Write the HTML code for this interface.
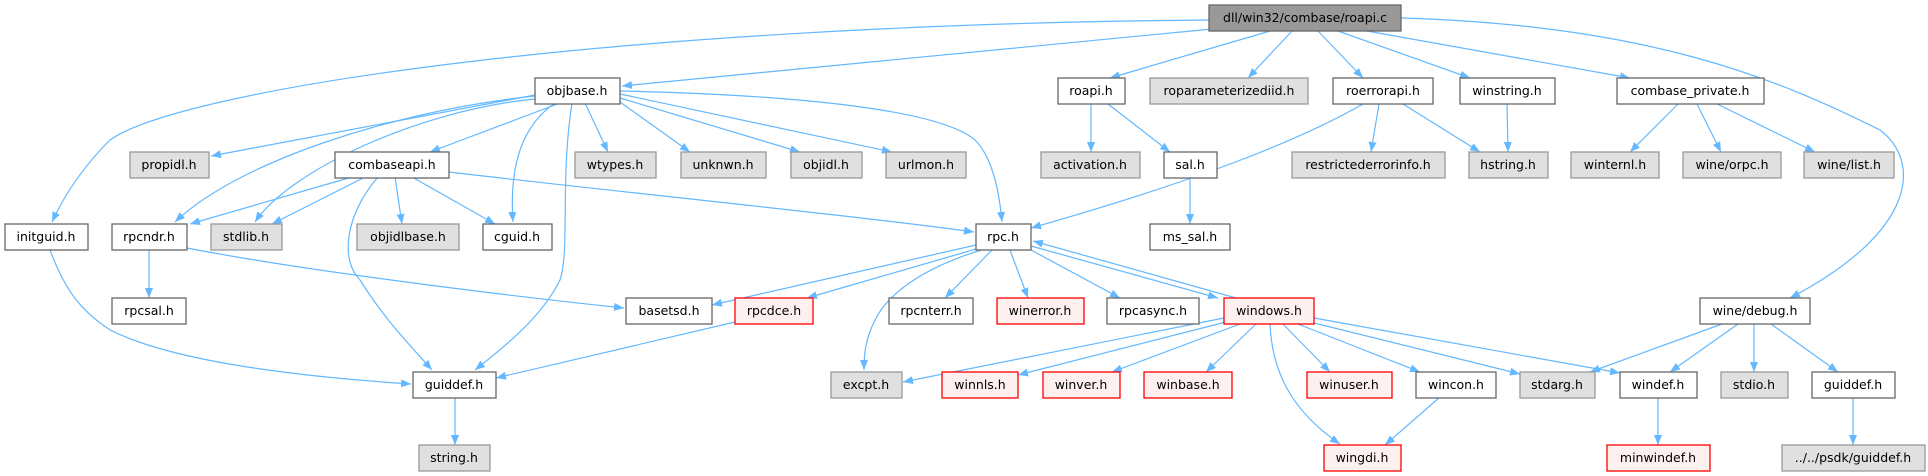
<!DOCTYPE html>
<html><head><meta charset="utf-8"><style>
html,body{margin:0;padding:0;background:#fff;}
svg{display:block;}
text{font-family:"DejaVu Sans","Liberation Sans",sans-serif;font-size:12.5px;fill:#000;text-anchor:middle;}
.n rect{fill:#fff;stroke:#666;stroke-width:1.3;}
.g rect{fill:#e0e0e0;stroke:#999;stroke-width:1.3;}
.r rect{fill:#fff0f0;stroke:#f00;stroke-width:1.3;}
.m rect{fill:#999;stroke:#666;stroke-width:1.3;}
path.e{fill:none;stroke:#63b8ff;stroke-width:1.2;marker-end:url(#a);}
</style></head><body>
<svg width="1928" height="476" viewBox="0 0 1928 476" xmlns="http://www.w3.org/2000/svg">
<defs><marker id="a" markerUnits="userSpaceOnUse" markerWidth="11" markerHeight="8" refX="10" refY="4" orient="auto"><path d="M0,0 L10,4 L0,8 z" fill="#63b8ff"/></marker></defs>
<g>
<path class="e" d="M1209,20 C600,25 180,90 110,140 C80,170 62,200 52,222"/>
<path class="e" d="M1212,29 L622,86"/>
<path class="e" d="M1270,31 L1110,78"/>
<path class="e" d="M1292,31 L1248,78"/>
<path class="e" d="M1318,31 L1363,78"/>
<path class="e" d="M1338,31 L1470,78"/>
<path class="e" d="M1367,31 L1630,78"/>
<path class="e" d="M1401,18 C1650,25 1780,80 1880,130 C1920,160 1920,230 1790,298"/>
<path class="e" d="M535,95 L211,156"/>
<path class="e" d="M560,103 L430,152"/>
<path class="e" d="M585,103 L608,152"/>
<path class="e" d="M620,102 L690,152"/>
<path class="e" d="M620,98 L800,152"/>
<path class="e" d="M620,94 L892,152"/>
<path class="e" d="M535,96 C400,110 240,160 175,222"/>
<path class="e" d="M535,99 C420,110 290,170 255,222"/>
<path class="e" d="M555,103 C515,130 510,180 513,222"/>
<path class="e" d="M572,103 C560,180 570,250 560,280 C540,320 500,350 475,370"/>
<path class="e" d="M620,91 C800,95 940,110 975,140 C995,160 1000,200 1002,222"/>
<path class="e" d="M352,177 L190,224"/>
<path class="e" d="M365,177 L272,224"/>
<path class="e" d="M395,177 L402,224"/>
<path class="e" d="M412,177 L495,224"/>
<path class="e" d="M378,177 C345,215 340,260 360,280 C385,320 410,345 432,370"/>
<path class="e" d="M449,172 C600,190 850,215 974,232"/>
<path class="e" d="M1091,104 L1091,152"/>
<path class="e" d="M1108,104 L1170,152"/>
<path class="e" d="M1190,178 L1190,224"/>
<path class="e" d="M1363,104 C1300,140 1200,180 1031,228"/>
<path class="e" d="M1379,104 L1371,152"/>
<path class="e" d="M1403,104 L1480,152"/>
<path class="e" d="M1507,104 L1508,152"/>
<path class="e" d="M1678,104 L1630,152"/>
<path class="e" d="M1697,104 L1721,152"/>
<path class="e" d="M1717,104 L1815,152"/>
<path class="e" d="M50,250 C65,290 80,310 110,330 C180,365 320,378 411,384"/>
<path class="e" d="M149,250 L149,298"/>
<path class="e" d="M187,248 C300,270 500,295 624,308"/>
<path class="e" d="M976,245 L712,305"/>
<path class="e" d="M976,249 L807,298"/>
<path class="e" d="M985,249 C930,265 890,290 875,320 C865,340 864,355 864,370"/>
<path class="e" d="M992,250 L945,298"/>
<path class="e" d="M1010,250 L1028,298"/>
<path class="e" d="M1031,250 L1120,298"/>
<path class="e" d="M1031,246 L1218,298"/>
<path class="e" d="M1236,298 L1033,241"/>
<path class="e" d="M735,322 L496,378"/>
<path class="e" d="M1224,318 L903,382"/>
<path class="e" d="M1226,322 L1018,375"/>
<path class="e" d="M1240,324 L1112,372"/>
<path class="e" d="M1256,324 L1206,372"/>
<path class="e" d="M1270,324 C1272,370 1290,410 1340,444"/>
<path class="e" d="M1283,324 L1330,372"/>
<path class="e" d="M1298,324 L1420,372"/>
<path class="e" d="M1310,322 L1520,374"/>
<path class="e" d="M1314,318 L1620,373"/>
<path class="e" d="M1440,397 L1385,445"/>
<path class="e" d="M1722,324 L1590,372"/>
<path class="e" d="M1738,324 L1670,372"/>
<path class="e" d="M1754,324 L1754,372"/>
<path class="e" d="M1771,324 L1838,372"/>
<path class="e" d="M1658,397 L1658,445"/>
<path class="e" d="M1853,397 L1853,445"/>
<path class="e" d="M455,397 L455,445"/>
</g>
<g class="m"><rect x="1209" y="5" width="192" height="26"/><text x="1305" y="22">dll/win32/combase/roapi.c</text></g>

<g class="n"><rect x="535" y="78" width="85" height="26"/><text x="577" y="95">objbase.h</text></g>
<g class="n"><rect x="1058" y="78" width="67" height="26"/><text x="1091" y="95">roapi.h</text></g>
<g class="g"><rect x="1150" y="78" width="158" height="26"/><text x="1229" y="95">roparameterizediid.h</text></g>
<g class="n"><rect x="1333" y="78" width="100" height="26"/><text x="1383" y="95">roerrorapi.h</text></g>
<g class="n"><rect x="1460" y="78" width="95" height="26"/><text x="1507" y="95">winstring.h</text></g>
<g class="n"><rect x="1617" y="78" width="147" height="26"/><text x="1690" y="95">combase_private.h</text></g>

<g class="g"><rect x="130" y="152" width="79" height="26"/><text x="169" y="169">propidl.h</text></g>
<g class="n"><rect x="335" y="152" width="114" height="26"/><text x="392" y="169">combaseapi.h</text></g>
<g class="g"><rect x="575" y="152" width="81" height="26"/><text x="615" y="169">wtypes.h</text></g>
<g class="g"><rect x="681" y="152" width="85" height="26"/><text x="723" y="169">unknwn.h</text></g>
<g class="g"><rect x="791" y="152" width="71" height="26"/><text x="826" y="169">objidl.h</text></g>
<g class="g"><rect x="886" y="152" width="80" height="26"/><text x="926" y="169">urlmon.h</text></g>
<g class="g"><rect x="1041" y="152" width="99" height="26"/><text x="1090" y="169">activation.h</text></g>
<g class="n"><rect x="1164" y="152" width="53" height="26"/><text x="1190" y="169">sal.h</text></g>
<g class="g"><rect x="1292" y="152" width="153" height="26"/><text x="1368" y="169">restrictederrorinfo.h</text></g>
<g class="g"><rect x="1469" y="152" width="79" height="26"/><text x="1508" y="169">hstring.h</text></g>
<g class="g"><rect x="1571" y="152" width="88" height="26"/><text x="1615" y="169">winternl.h</text></g>
<g class="g"><rect x="1683" y="152" width="98" height="26"/><text x="1732" y="169">wine/orpc.h</text></g>
<g class="g"><rect x="1804" y="152" width="90" height="26"/><text x="1849" y="169">wine/list.h</text></g>

<g class="n"><rect x="5" y="224" width="83" height="26"/><text x="46" y="241">initguid.h</text></g>
<g class="n"><rect x="112" y="224" width="75" height="26"/><text x="149" y="241">rpcndr.h</text></g>
<g class="g"><rect x="211" y="224" width="71" height="26"/><text x="246" y="241">stdlib.h</text></g>
<g class="g"><rect x="357" y="224" width="102" height="26"/><text x="408" y="241">objidlbase.h</text></g>
<g class="n"><rect x="483" y="224" width="69" height="26"/><text x="517" y="241">cguid.h</text></g>
<g class="n"><rect x="976" y="224" width="55" height="26"/><text x="1003" y="241">rpc.h</text></g>
<g class="n"><rect x="1150" y="224" width="80" height="26"/><text x="1190" y="241">ms_sal.h</text></g>

<g class="n"><rect x="112" y="298" width="74" height="26"/><text x="149" y="315">rpcsal.h</text></g>
<g class="n"><rect x="626" y="298" width="86" height="26"/><text x="669" y="315">basetsd.h</text></g>
<g class="r"><rect x="735" y="298" width="78" height="26"/><text x="774" y="315">rpcdce.h</text></g>
<g class="n"><rect x="889" y="298" width="84" height="26"/><text x="931" y="315">rpcnterr.h</text></g>
<g class="r"><rect x="997" y="298" width="87" height="26"/><text x="1040" y="315">winerror.h</text></g>
<g class="n"><rect x="1107" y="298" width="92" height="26"/><text x="1153" y="315">rpcasync.h</text></g>
<g class="r"><rect x="1224" y="298" width="90" height="26"/><text x="1269" y="315">windows.h</text></g>
<g class="n"><rect x="1700" y="298" width="110" height="26"/><text x="1755" y="315">wine/debug.h</text></g>

<g class="n"><rect x="413" y="372" width="83" height="26"/><text x="454" y="389">guiddef.h</text></g>
<g class="g"><rect x="831" y="372" width="71" height="26"/><text x="866" y="389">excpt.h</text></g>
<g class="r"><rect x="942" y="372" width="76" height="26"/><text x="980" y="389">winnls.h</text></g>
<g class="r"><rect x="1043" y="372" width="77" height="26"/><text x="1081" y="389">winver.h</text></g>
<g class="r"><rect x="1144" y="372" width="88" height="26"/><text x="1188" y="389">winbase.h</text></g>
<g class="r"><rect x="1307" y="372" width="85" height="26"/><text x="1349" y="389">winuser.h</text></g>
<g class="n"><rect x="1416" y="372" width="80" height="26"/><text x="1456" y="389">wincon.h</text></g>
<g class="g"><rect x="1520" y="372" width="75" height="26"/><text x="1557" y="389">stdarg.h</text></g>
<g class="n"><rect x="1620" y="372" width="77" height="26"/><text x="1658" y="389">windef.h</text></g>
<g class="g"><rect x="1721" y="372" width="67" height="26"/><text x="1754" y="389">stdio.h</text></g>
<g class="n"><rect x="1812" y="372" width="83" height="26"/><text x="1853" y="389">guiddef.h</text></g>

<g class="g"><rect x="419" y="445" width="71" height="26"/><text x="454" y="462">string.h</text></g>
<g class="r"><rect x="1324" y="445" width="77" height="26"/><text x="1362" y="462">wingdi.h</text></g>
<g class="r"><rect x="1607" y="445" width="103" height="26"/><text x="1658" y="462">minwindef.h</text></g>
<g class="g"><rect x="1782" y="445" width="143" height="26"/><text x="1853" y="462">../../psdk/guiddef.h</text></g>
</svg>
</body></html>
